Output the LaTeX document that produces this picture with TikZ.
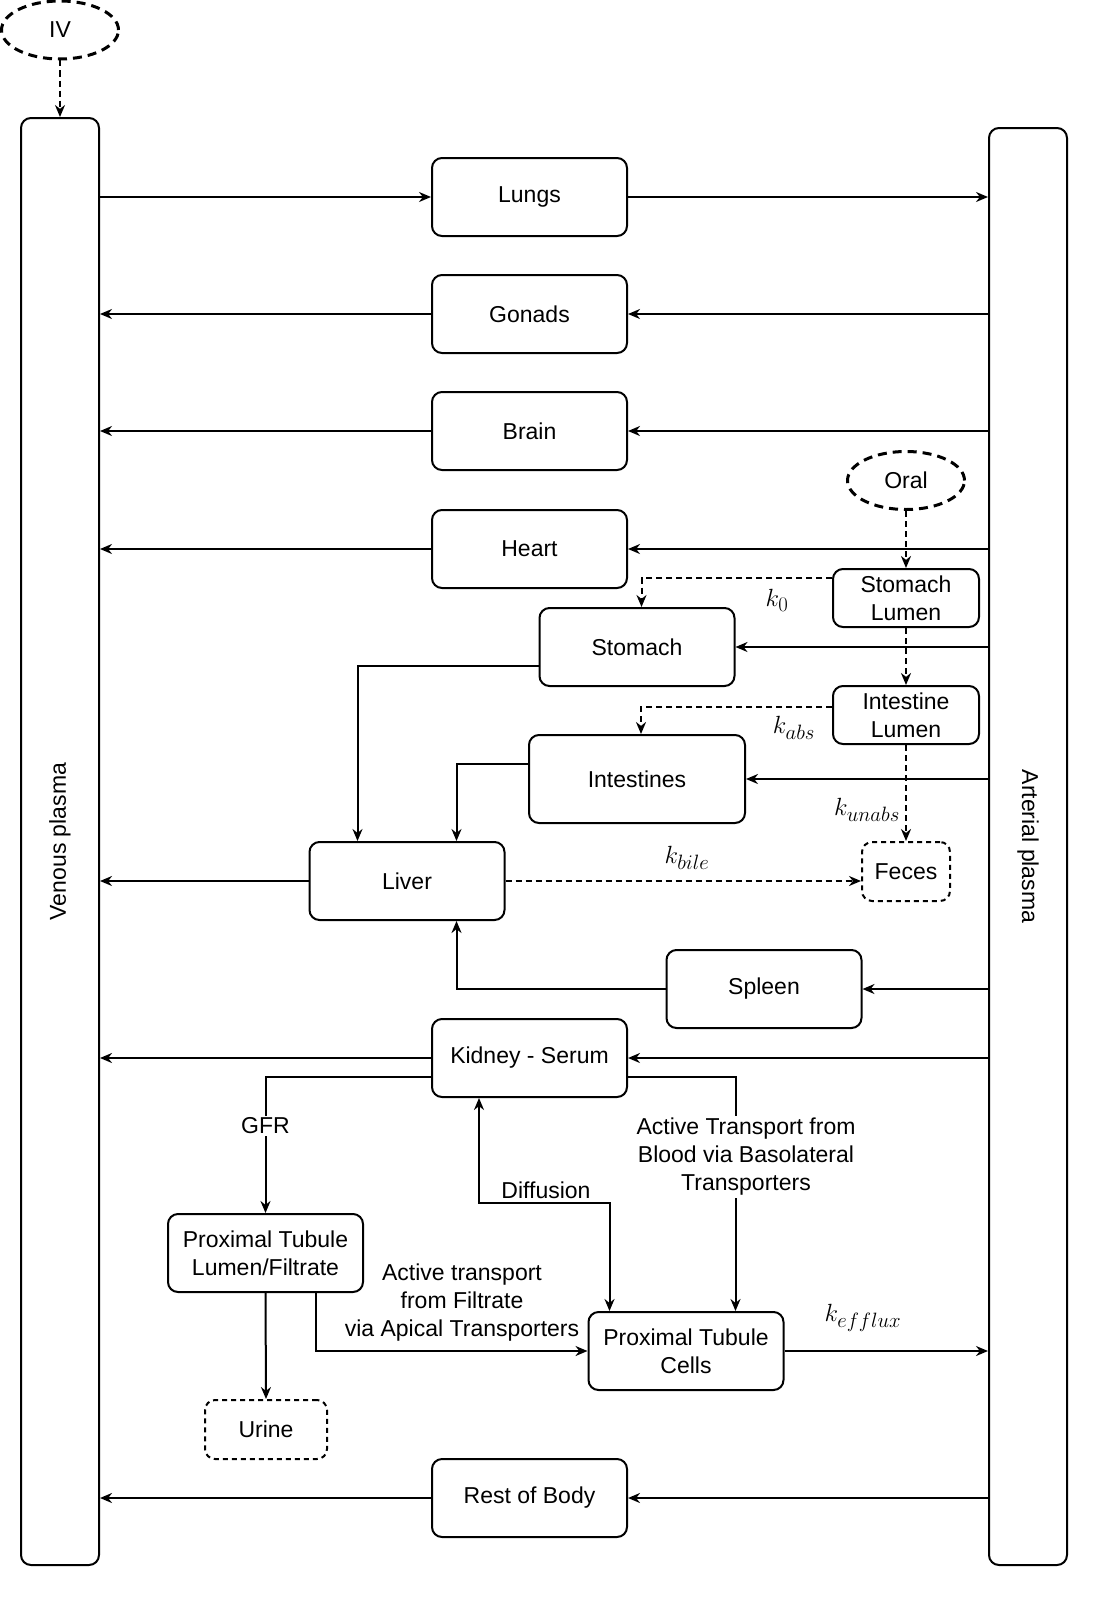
\documentclass[tikz,border=0pt]{standalone}
\usepackage{fontspec}
\setmainfont{Liberation Sans}
\usetikzlibrary{arrows.meta,calc,shapes.geometric}
\begin{document}
\begin{tikzpicture}[x=1pt,y=-1pt,
  txt/.style={font=\fontsize{23}{28}\selectfont,align=center,inner sep=1pt},
  box/.style={txt,draw,line width=2pt,rounded corners=10pt,minimum width=195pt,minimum height=78pt,inner sep=0pt},
  dbox/.style={box,dash pattern=on 5pt off 4pt},
  plasma/.style={draw,line width=2pt,rounded corners=10pt,minimum width=78pt,inner sep=0pt},
  oval/.style={txt,ellipse,draw,line width=3pt,dash pattern=on 9pt off 6pt,minimum width=117pt,minimum height=58pt},
  conn/.style={line width=2pt,-{Stealth[length=12pt,width=10pt]}},
  dconn/.style={conn,dash pattern=on 6pt off 4pt},
  lbl/.style={txt,fill=white,inner sep=2pt},
  mlbl/.style={font=\fontsize{29}{33}\selectfont,inner sep=0pt}]
\useasboundingbox (0,0) rectangle (1093,1603);
% plasma columns
\node[plasma,minimum height=1447pt] (ven) at (60,841.5) {};
\node[txt,rotate=90] (venlab) at (ven.center) {Venous plasma};
\node[plasma,minimum height=1437pt] (art) at (1028,846.5) {};
\node[txt,rotate=-90] (artlab) at (art.center) {Arterial plasma};
% sources
\node[oval] (iv) at (60,30) {IV};
\node[oval] (oral) at (906,480.5) {Oral};
% organs
\node[box] (lungs) at (529.5,197) {Lungs};
\node[box] (gonads) at (529.5,314) {Gonads};
\node[box] (brain) at (529.5,431) {Brain};
\node[box] (heart) at (529.5,549) {Heart};
\node[box] (stomach) at (637,647) {Stomach};
\node[box,minimum width=216pt,minimum height=88pt] (intest) at (637,779) {Intestines};
\node[box] (liver) at (407,881) {Liver};
\node[box] (spleen) at (764,989) {Spleen};
\node[box] (kidney) at (529.5,1058) {Kidney - Serum};
\node[box] (ptl) at (265.5,1253) {Proximal Tubule\\Lumen/Filtrate};
\node[box] (ptc) at (686,1351) {Proximal Tubule\\Cells};
\node[dbox,minimum width=122pt,minimum height=59pt] (urine) at (266,1429.5) {Urine};
\node[box] (rest) at (529.5,1498) {Rest of Body};
\node[box,minimum width=146pt,minimum height=58pt] (slumen) at (906,598) {Stomach\\Lumen};
\node[box,minimum width=146pt,minimum height=58pt] (ilumen) at (906,715) {Intestine\\Lumen};
\node[dbox,minimum width=88pt,minimum height=59pt] (feces) at (906,871.5) {Feces};
% IV
\draw[dconn] (iv.south) -- (ven.north);
% lungs
\draw[conn] (ven.east |- lungs.west) -- (lungs.west);
\draw[conn] (lungs.east) -- (art.west |- lungs.east);
% simple organs
\foreach \o in {gonads,brain,heart,rest}{
  \draw[conn] (art.west |- \o.east) -- (\o.east);
  \draw[conn] (\o.west) -- (ven.east |- \o.west);
}
% stomach / intestines / spleen / liver
\draw[conn] (art.west |- stomach.east) -- (stomach.east);
\draw[conn] ($(stomach.west)+(0,19)$) -| ($(liver.north west)+(49,0)$);
\draw[conn] (art.west |- intest.east) -- (intest.east);
\draw[conn] ($(intest.west)+(0,-15)$) -| ($(liver.north east)+(-49,0)$);
\draw[conn] (art.west |- spleen.east) -- (spleen.east);
\draw[conn] (spleen.west) -| ($(liver.south east)+(-49,0)$);
\draw[conn] (liver.west) -- (ven.east |- liver.west);
\draw[dconn] (liver.east) -- (liver.east -| feces.west);
\node[mlbl] (kbile) at (687,858) {$k_{bile}$};
% oral route
\draw[dconn] (oral.south) -- (slumen.north);
\draw[dconn] ($(slumen.west)+(0,-20)$) -| ($(stomach.north west)+(103,0)$);
\node[mlbl] (k0) at (777,600) {$k_0$};
\draw[dconn] (slumen.south) -- (ilumen.north);
\draw[dconn] ($(ilumen.west)+(0,-8)$) -| ($(intest.north west)+(113,0)$);
\node[mlbl] (kabs) at (794,728) {$k_{abs}$};
\draw[dconn] (ilumen.south) -- (feces.north);
\node[mlbl] (kunabs) at (867,810) {$k_{unabs}$};
% kidney
\draw[conn] (art.west |- kidney.east) -- (kidney.east);
\draw[conn] (kidney.west) -- (ven.east |- kidney.west);
\draw[conn] ($(kidney.west)+(0,19)$) -| (ptl.north);
\node[lbl] (gfr) at (265.5,1126) {GFR};
\draw[conn] ($(kidney.east)+(0,19)$) -| ($(ptc.north east)+(-49,0)$);
\node[lbl] (atb) at (746,1157) {Active Transport from\\Blood via Basolateral\\Transporters};
\draw[line width=2pt,{Stealth[length=12pt,width=10pt]}-{Stealth[length=12pt,width=10pt]}]
  ($(kidney.south west)+(48,0)$) |- ($(ptc.north west)+(22,-108)$) -- ($(ptc.north west)+(22,0)$);
\node[txt] (diff) at (546,1190) {Diffusion};
\draw[conn] (ptl.south) -- (urine.north);
\draw[conn] ($(ptl.south east)+(-48,0)$) |- (ptc.west);
\node[txt] (ata) at (462,1303) {Active transport\\from Filtrate\\via Apical Transporters};
\draw[conn] (ptc.east) -- (art.west |- ptc.east);
\node[mlbl] (keff) at (863,1318) {$k_{efflux}$};
\end{tikzpicture}
\end{document}
